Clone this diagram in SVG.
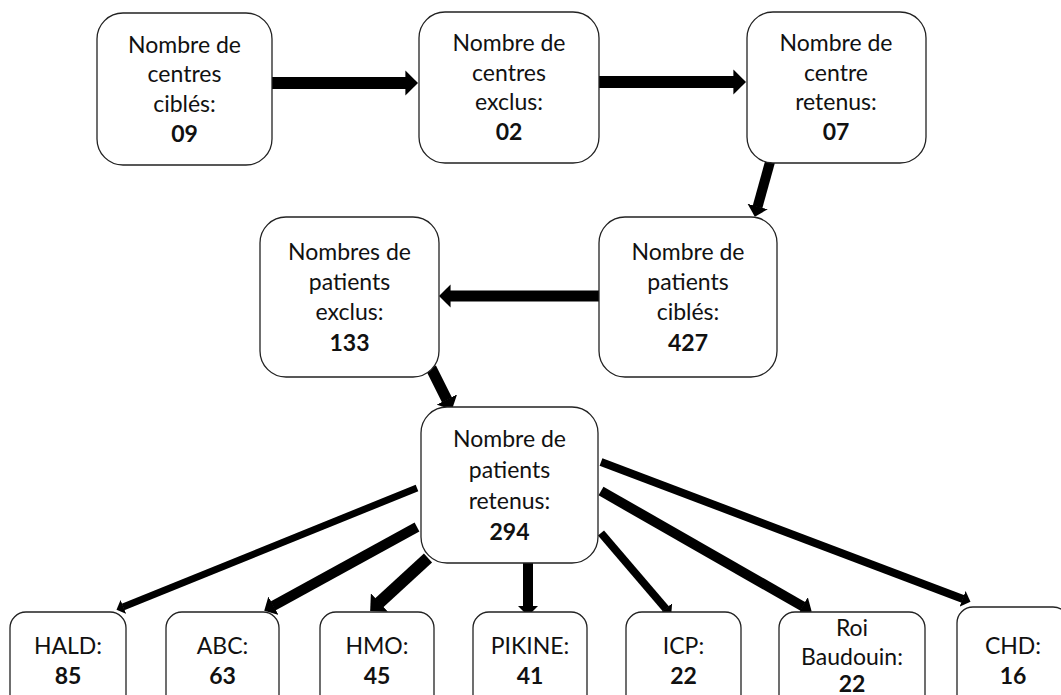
<svg xmlns="http://www.w3.org/2000/svg" width="1061" height="695" viewBox="0 0 1061 695">
<style>
.box{fill:#fff;stroke:#222;stroke-width:1.3}
.t{font-family:Lato,"Open Sans","Liberation Sans",sans-serif;font-size:23px;fill:#111;text-anchor:middle}
.b{font-weight:bold}
.c{stroke:#000;fill:none;marker-end:url(#ah)}
</style>
<defs>
<marker id="ah" markerUnits="strokeWidth" markerWidth="1.05" markerHeight="2.1" viewBox="0 0 10.5 21" refX="0.5" refY="10.5" orient="auto">
<path d="M0,0 L10.5,10.5 L0,21 Z" fill="#000"/>
</marker>
</defs>
<rect width="1061" height="695" fill="#fff"/>
<g id="connectors">
<line class="c" x1="272" y1="83" x2="406" y2="83" stroke-width="12"/>
<line class="c" x1="599" y1="82" x2="734" y2="82" stroke-width="12"/>
<line class="c" x1="770" y1="162" x2="757.5" y2="207" stroke-width="10"/>
<line class="c" x1="599" y1="296" x2="450" y2="296" stroke-width="11"/>
<line class="c" x1="431" y1="368" x2="447" y2="400" stroke-width="11"/>
<line class="c" x1="417" y1="488" x2="123" y2="607" stroke-width="7"/>
<line class="c" x1="417" y1="527" x2="273" y2="606" stroke-width="10"/>
<line class="c" x1="428" y1="558" x2="379" y2="603" stroke-width="12"/>
<line class="c" x1="528" y1="563" x2="528" y2="606" stroke-width="10"/>
<line class="c" x1="601" y1="533" x2="666" y2="609" stroke-width="8"/>
<line class="c" x1="601" y1="491" x2="803" y2="606.5" stroke-width="10"/>
<line class="c" x1="601" y1="462" x2="963" y2="599" stroke-width="8"/>
</g>
<g id="centres-cibles">
<rect class="box" x="97" y="13" width="175" height="152" rx="26"/>
<text class="t" x="184.5" y="53">Nombre de</text>
<text class="t" x="184.5" y="82">centres</text>
<text class="t" x="184.5" y="112">ciblés:</text>
<text class="t b" x="184.5" y="142">09</text>
</g>
<g id="centres-exclus">
<rect class="box" x="419" y="12" width="180" height="151" rx="26"/>
<text class="t" x="509" y="51">Nombre de</text>
<text class="t" x="509" y="81">centres</text>
<text class="t" x="509" y="110">exclus:</text>
<text class="t b" x="509" y="140">02</text>
</g>
<g id="centres-retenus">
<rect class="box" x="747" y="12" width="179" height="151" rx="26"/>
<text class="t" x="836" y="51">Nombre de</text>
<text class="t" x="836" y="81">centre</text>
<text class="t" x="836" y="110">retenus:</text>
<text class="t b" x="836" y="140">07</text>
</g>
<g id="patients-cibles">
<rect class="box" x="599" y="217" width="178" height="160" rx="26"/>
<text class="t" x="688" y="260">Nombre de</text>
<text class="t" x="688" y="290">patients</text>
<text class="t" x="688" y="320">ciblés:</text>
<text class="t b" x="688" y="351">427</text>
</g>
<g id="patients-exclus">
<rect class="box" x="260" y="217" width="179" height="160" rx="26"/>
<text class="t" x="349.5" y="260">Nombres de</text>
<text class="t" x="349.5" y="290">patients</text>
<text class="t" x="349.5" y="320">exclus:</text>
<text class="t b" x="349.5" y="351">133</text>
</g>
<g id="patients-retenus">
<rect class="box" x="421" y="407" width="177" height="156" rx="26"/>
<text class="t" x="509.5" y="447">Nombre de</text>
<text class="t" x="509.5" y="478">patients</text>
<text class="t" x="509.5" y="509">retenus:</text>
<text class="t b" x="509.5" y="540">294</text>
</g>
<g id="hald">
<rect class="box" x="10" y="612" width="116" height="110" rx="16"/>
<text class="t" x="68" y="654">HALD:</text>
<text class="t b" x="68" y="684">85</text>
</g>
<g id="abc">
<rect class="box" x="166" y="612" width="113" height="110" rx="16"/>
<text class="t" x="222.5" y="654">ABC:</text>
<text class="t b" x="222.5" y="684">63</text>
</g>
<g id="hmo">
<rect class="box" x="320" y="612" width="114" height="110" rx="16"/>
<text class="t" x="377" y="654">HMO:</text>
<text class="t b" x="377" y="684">45</text>
</g>
<g id="pikine">
<rect class="box" x="473" y="612" width="114" height="110" rx="16"/>
<text class="t" x="530" y="654">PIKINE:</text>
<text class="t b" x="530" y="684">41</text>
</g>
<g id="icp">
<rect class="box" x="626" y="612" width="115" height="110" rx="16"/>
<text class="t" x="683.5" y="654">ICP:</text>
<text class="t b" x="683.5" y="684">22</text>
</g>
<g id="roi-baudouin">
<rect class="box" x="779" y="612" width="146" height="110" rx="16"/>
<text class="t" x="852" y="636">Roi</text>
<text class="t" x="852" y="665">Baudouin:</text>
<text class="t b" x="852" y="692">22</text>
</g>
<g id="chd">
<rect class="box" x="957" y="607" width="112" height="115" rx="16"/>
<text class="t" x="1013" y="654">CHD:</text>
<text class="t b" x="1013" y="684">16</text>
</g>
</svg>
